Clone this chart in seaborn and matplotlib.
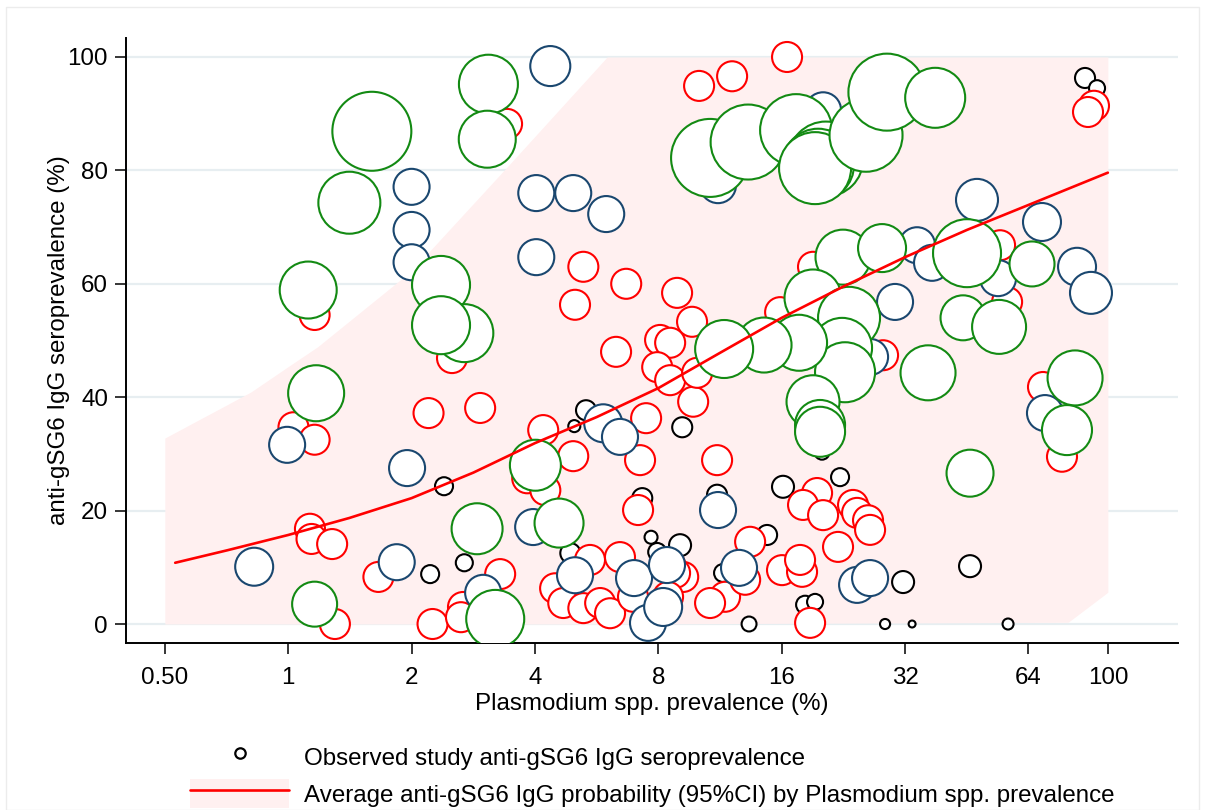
import numpy as np
import pandas as pd
import matplotlib
matplotlib.use("Agg")
import matplotlib.pyplot as plt
from matplotlib.lines import Line2D
from matplotlib.patches import Patch, Rectangle
from matplotlib.legend_handler import HandlerTuple
import seaborn as sns

# ---------------- data ----------------
# small studies (black)
black_x = [2.22, 2.40, 2.69, 4.99, 5.33, 4.88, 7.31, 7.68, 7.95, 9.04, 9.15, 11.13, 11.51,
           14.74, 16.12, 22.21, 20.07, 18.25, 19.3, 13.32, 28.6, 33.29, 31.65, 46.1, 57.08,
           87.96, 94.1]
black_y = [8.8, 24.3, 10.8, 34.9, 37.7, 12.5, 22.2, 15.3, 12.7, 13.9, 34.7, 22.8, 9.0,
           15.7, 24.2, 25.9, 30.3, 3.4, 3.9, 0.0, 0.0, 0.0, 7.4, 10.2, 0.0,
           96.3, 94.5]
black_n = [67, 67, 60, 30, 83, 83, 83, 35, 67, 100, 83, 83, 67,
           83, 100, 67, 46, 67, 53, 46, 21, 10, 100, 100, 25,
           83, 53]

# medium studies (red)
red_x = [1.03, 1.16, 1.13, 1.14, 1.28, 1.30, 1.16, 1.66, 2.25, 2.20, 2.94, 2.67, 2.64, 3.29,
         2.51, 3.42, 5.01, 5.25, 6.68, 8.89, 6.31, 4.19, 4.96, 7.47, 7.22, 7.14, 3.83, 4.24,
         4.48, 4.69, 5.25, 5.45, 6.45, 5.77, 6.10, 6.94, 7.64, 8.08, 8.55, 7.95, 8.55, 9.67,
         9.73, 9.95, 11.13, 13.4, 16.03, 17.94, 17.74, 19.52, 18.04, 20.19, 23.89, 24.44,
         25.99, 26.29, 21.96, 18.77, 11.64, 10.70, 9.2, 8.55, 8.79, 8.45, 13.03, 28.28,
         10.06, 12.11, 16.49, 92.5, 89.45, 19.08, 15.86, 54.57, 56.77, 69.46, 77.28]
red_y = [34.7, 32.5, 16.8, 15.0, 14.1, 0.0, 54.5, 8.3, 0.0, 37.2, 38.1, 3.0, 1.2, 8.8,
         46.9, 88.2, 56.3, 63.0, 60.0, 58.4, 48.0, 34.2, 29.6, 36.3, 28.9, 20.1, 25.7, 23.6,
         6.3, 3.7, 2.8, 11.3, 11.8, 3.7, 1.9, 4.8, 0.7, 50.1, 49.6, 45.3, 43.0, 53.3,
         39.2, 44.3, 28.9, 14.5, 9.5, 9.2, 11.3, 23.1, 21.0, 19.2, 21.0, 19.6,
         18.3, 16.6, 13.6, 0.2, 4.8, 3.7, 8.3, 10.4, 9.0, 4.8, 7.8, 47.4,
         94.9, 96.6, 100.0, 91.4, 90.3, 63.0, 55.0, 66.8, 56.8, 41.8, 29.5]
red_n = [186] * len(red_x)

# larger studies (navy)
navy_x = [0.826, 0.994, 1.84, 1.95, 2.0, 2.0, 2.0, 2.99, 4.36, 4.03, 4.96, 5.97, 4.03, 3.96,
          5.01, 5.87, 6.45, 6.98, 8.40, 7.55, 8.22, 11.19, 12.59, 24.44, 26.29, 47.94,
          69.07, 84.1, 90.95, 34.23, 37.24, 53.96, 30.25, 70.24, 11.19, 20.19, 26.29]
navy_y = [10.1, 31.6, 10.9, 27.5, 77.1, 69.5, 63.8, 5.5, 98.4, 76.0, 76.0, 72.3, 64.7, 17.1,
          8.6, 35.4, 33.0, 8.1, 10.4, 0.2, 3.0, 20.1, 9.9, 6.9, 8.1, 74.8,
          70.9, 63.0, 58.4, 66.8, 63.7, 61.0, 56.8, 37.2, 77.4, 90.6, 47.1]
navy_n = [298, 268, 268, 268, 268, 268, 268, 268, 331, 268, 268, 268, 268, 268,
          268, 298, 268, 268, 268, 268, 298, 268, 268, 268, 268, 364,
          298, 298, 364, 268, 268, 268, 268, 268, 268, 268, 268]

# largest studies (green)
green_x = [1.60, 1.41, 1.119, 1.17, 1.16, 3.08, 3.06, 2.36, 2.69, 2.36, 2.89, 3.20, 4.01, 4.58,
           10.70, 13.25, 17.35, 20.5, 19.63, 19.3, 25.7, 28.9, 37.9,
           22.58, 28.12, 45.33, 65.3, 19.08, 23.36, 22.46, 22.84, 17.64, 14.49, 11.58,
           44.32, 54.27, 36.41, 83.17, 79.48, 46.1, 19.08, 19.85, 19.85]
green_y = [86.9, 74.3, 58.9, 40.7, 3.5, 95.2, 85.5, 59.8, 51.3, 52.7, 16.8, 0.9, 28.0, 17.8,
           82.2, 85.0, 87.1, 82.0, 81.0, 80.4, 86.2, 93.8, 92.8,
           64.7, 66.3, 65.4, 63.5, 57.5, 54.0, 48.7, 44.4, 49.6, 49.2, 48.5,
           54.0, 52.4, 44.3, 43.4, 34.2, 26.6, 39.2, 35.1, 33.9]
green_n = [1289, 794, 671, 648, 418, 719, 671, 695, 695, 695, 537, 695, 537, 496,
           1257, 1162, 1071, 1162, 1071, 1071, 1101, 1225, 744,
           625, 476, 955, 418, 671, 794, 744, 744, 648, 625, 695,
           418, 602, 625, 625, 517, 456, 580, 517, 517]

# fitted average probability (%) by Plasmodium prevalence (%)
curve_x = [0.53, 0.71, 1, 1.41, 2, 2.83, 4, 5.66, 8, 11.3, 16, 22.6, 32, 45.3, 64, 100]
curve_y = [10.8, 13.0, 15.7, 18.7, 22.2, 26.7, 31.9, 36.5, 41.6, 47.8, 54.0, 59.5, 64.7,
           69.5, 73.9, 79.6]

# 95% CI band (clipped to 0-100)
band_x = [0.5, 0.81, 1, 1.18, 2, 3.42, 4, 6, 80, 100]
band_lo = [0, 0, 0, 0, 0, 0, 0, 0, 0.3, 5.6]
band_hi = [32.8, 40.9, 45.4, 48.9, 62.3, 80.6, 86.0, 100, 100, 100]

x_ticks = [0.5, 1, 2, 4, 8, 16, 32, 64, 100]
x_ticklabels = ["0.50", "1", "2", "4", "8", "16", "32", "64", "100"]
y_ticks = [0, 20, 40, 60, 80, 100]

# ---------------- plotting ----------------
sns.set_theme(style="white")
plt.rcParams["font.family"] = ["Liberation Sans", "DejaVu Sans"]
plt.rcParams["text.color"] = "black"
plt.rcParams["axes.labelcolor"] = "black"
FS = 17.4

fig = plt.figure(figsize=(12.05, 8.1), dpi=100)
ax = fig.add_axes([126 / 1205, 1 - 643 / 810, (1178 - 126) / 1205, (643 - 38) / 810])

# faint outer frame like the original graph region
fig.patches.append(Rectangle((6 / 1205, 0), 1193 / 1205, 1 - 7 / 810, transform=fig.transFigure,
                             fill=False, edgecolor="#ececec", linewidth=1.0, zorder=0))

ax.set_xscale("log", base=2)
for yv in y_ticks:
    ax.axhline(yv, color="#e7eef1", linewidth=1.6, zorder=0)

ax.fill_between(band_x, band_lo, band_hi, color="#fff0f0", linewidth=0, zorder=1)

pt = 0.72  # points per pixel at 100 dpi
k = (2.2 * pt) ** 2  # area in pt^2 per unit of weight


def bubbles(xs, ys, ns, col, z):
    df = pd.DataFrame({"x": xs, "y": ys, "n": ns})
    sns.scatterplot(data=df, x="x", y="y", size="n", sizes=(0, 1500 * k), size_norm=(0, 1500),
                    color="white", edgecolor=col, linewidth=1.5, marker="o", alpha=1,
                    legend=False, ax=ax, zorder=z)


bubbles(black_x, black_y, black_n, "#000000", 3)
bubbles(red_x, red_y, red_n, "#ff0000", 4)
bubbles(navy_x, navy_y, navy_n, "#1a476f", 5)
bubbles(green_x, green_y, green_n, "#138a13", 6)

sns.lineplot(x=curve_x, y=curve_y, color="#ff0000", linewidth=1.9, sort=False,
             estimator=None, ax=ax, zorder=7)

ax.set_xlim(0.402, 148.3)
ax.set_ylim(-3.35, 103.35)
ax.set_xticks(x_ticks)
ax.set_xticklabels(x_ticklabels)
ax.xaxis.set_minor_locator(matplotlib.ticker.NullLocator())
ax.set_yticks(y_ticks)
ax.set_yticklabels([str(v) for v in y_ticks])

for side in ["top", "right"]:
    ax.spines[side].set_visible(False)
for side in ["left", "bottom"]:
    ax.spines[side].set_color("black")
    ax.spines[side].set_linewidth(1.4)
ax.tick_params(axis="both", which="major", direction="out", length=8, width=1.1,
               color="black", labelsize=FS, labelcolor="black", bottom=True, left=True)
ax.tick_params(axis="x", pad=9)
ax.tick_params(axis="y", pad=5)

ax.set_xlabel("Plasmodium spp. prevalence (%)", fontsize=FS, labelpad=3, color="black")
ax.set_ylabel("anti-gSG6 IgG seroprevalence (%)", fontsize=FS, labelpad=-2, color="black")

h1 = Line2D([], [], linestyle="none", marker="o", markersize=7.5, markerfacecolor="white",
            markeredgecolor="black", markeredgewidth=1.6)
h2 = (Patch(facecolor="#fff0f0", edgecolor="none"), Line2D([], [], color="#ff0000", linewidth=1.9))
leg = fig.legend([h1, h2],
                 ["Observed study anti-gSG6 IgG seroprevalence",
                  "Average anti-gSG6 IgG probability (95%CI) by Plasmodium spp. prevalence"],
                 handler_map={tuple: HandlerTuple(ndivide=1, pad=0)},
                 loc="upper left", bbox_to_anchor=(190 / 1205, 1 - 742 / 810),
                 frameon=False, fontsize=FS, handlelength=4.1, handleheight=1.5,
                 handletextpad=0.62, labelspacing=0.31, borderpad=0, borderaxespad=0,
                 labelcolor="black")

fig.savefig("out.png", dpi=100)
